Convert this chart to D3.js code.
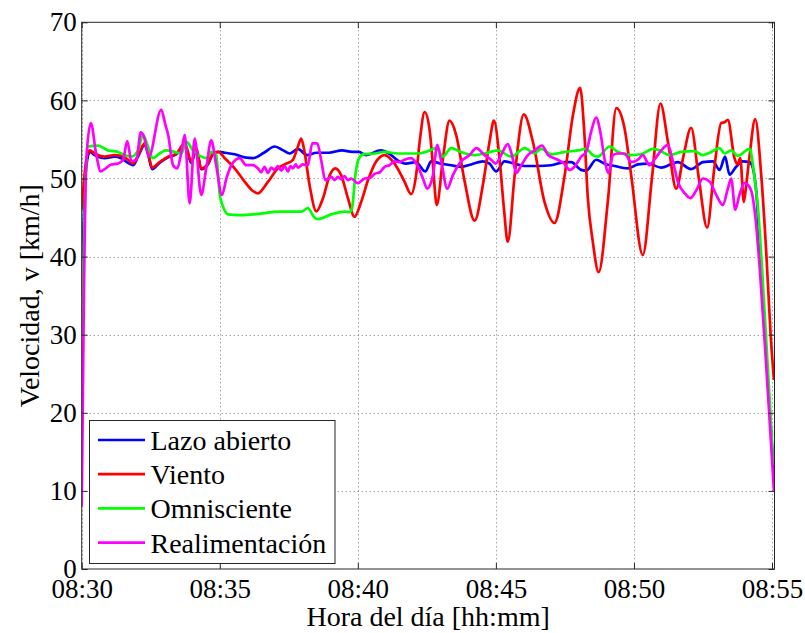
<!DOCTYPE html>
<html><head><meta charset="utf-8">
<script src="https://cdn.jsdelivr.net/npm/d3@7"></script>
<style>
body{margin:0;background:#fff}
text{font-family:"Liberation Serif","Tinos","Times New Roman","DejaVu Serif",serif;fill:#000}
</style>
</head><body>
<svg id="c" width="805" height="633"></svg>
<script>
// time = minutes after 08:30, value = km/h
const lazoAbierto = [[0,35],[0.15,51],[0.29,53.4],[0.47,53.0],[0.83,52.6],[1.19,52.8],[1.43,52.6],[1.68,52.0],[1.86,51.7],[2.04,52.8],[2.28,54.3],[2.40,53.2],[2.55,51.2],[2.82,52.0],[3.13,52.7],[3.43,53.1],[3.73,54.3],[3.97,52.0],[4.15,53.7],[4.33,51.2],[4.57,51.8],[4.75,53.1],[4.94,53.4],[5.18,53.3],[5.54,53.1],[5.90,52.7],[6.20,52.6],[6.60,53.3],[6.99,54.1],[7.30,53.6],[7.53,53.2],[7.83,53.8],[8.16,53.0],[8.50,53.3],[8.95,53.3],[9.43,53.6],[9.80,53.4],[10.04,53.4],[10.30,53.0],[10.83,53.6],[11.13,53.2],[11.45,52.3],[11.74,51.9],[12.10,52.1],[12.44,50.9],[12.66,52.2],[13.02,51.9],[13.38,51.7],[13.74,51.5],[14.11,51.8],[14.53,52.2],[14.77,51.9],[15.01,50.9],[15.31,52.2],[15.67,51.9],[16.04,51.6],[16.52,51.6],[17.00,51.7],[17.49,52.1],[17.73,52.1],[18.09,51.1],[18.27,51.0],[18.63,52.4],[18.94,51.9],[19.30,51.6],[19.78,51.3],[20.14,51.8],[20.51,51.9],[20.99,51.4],[21.59,52.1],[22.07,51.2],[22.50,52.1],[22.86,52.2],[23.10,51.1],[23.30,52.8],[23.46,50.5],[23.70,51.5],[23.94,52.2],[24.19,52.1],[24.31,51.3],[24.43,48.3],[24.62,37],[24.85,24],[25.07,12]];

const viento = [[0,46],[0.15,52],[0.29,53.6],[0.47,53.2],[0.83,52.8],[1.19,53.0],[1.43,52.9],[1.68,52.4],[1.86,51.9],[2.04,53.0],[2.28,54.5],[2.40,53.4],[2.55,51.4],[2.82,52.1],[3.13,52.8],[3.43,53.2],[3.73,54.5],[3.97,52.2],[4.15,53.9],[4.33,51.3],[4.57,51.9],[4.75,53.2],[4.94,53.4],[5.18,52.6],[5.54,51.3],[5.90,49.6],[6.20,48.4],[6.38,48.1],[6.75,49.6],[7.11,51.3],[7.41,51.9],[7.65,52.4],[7.83,54.1],[7.95,55.1],[8.07,53.4],[8.25,49.2],[8.50,45.8],[8.74,47.5],[8.98,50.4],[9.18,51.3],[9.40,50.4],[9.64,47.5],[9.88,45.1],[10.12,47.0],[10.37,49.8],[10.67,52.2],[10.97,53.0],[11.33,51.9],[11.69,49.6],[11.93,48.0],[12.11,50.4],[12.24,54.7],[12.42,58.5],[12.60,56.2],[12.72,51.7],[12.86,46.6],[13.08,52.5],[13.32,57.4],[13.56,55.6],[13.87,49.6],[14.23,44.6],[14.53,49.2],[14.77,54.7],[14.93,57.4],[15.13,52.6],[15.29,46.2],[15.43,41.9],[15.68,50.4],[16.01,58.2],[16.34,54.7],[16.76,47.0],[17.12,44.3],[17.49,50.4],[17.79,58.1],[18.05,61.6],[18.20,56],[18.33,47.5],[18.51,41.9],[18.72,38.0],[19.06,47.3],[19.36,59.0],[19.66,56.4],[19.90,50.4],[20.32,40.2],[20.65,50],[20.96,59.6],[21.23,54.7],[21.53,48.7],[21.80,53],[22.07,56.5],[22.35,50],[22.65,43.7],[22.90,51],[23.16,57.1],[23.28,57.2],[23.40,57.5],[23.64,52.6],[23.75,51.8],[23.85,52.6],[23.98,47.0],[24.06,49.0],[24.19,53.0],[24.39,57.6],[24.61,50.4],[24.80,40],[24.95,30],[25.07,24.2]];

const omnisciente = [[0,30],[0.1,45],[0.23,54.1],[0.59,54.2],[0.95,53.6],[1.31,53.4],[1.56,53.0],[1.80,52.8],[2.04,53.6],[2.22,55.6],[2.40,54.1],[2.58,52.6],[2.82,53.2],[3.06,53.6],[3.37,53.4],[3.61,53.2],[3.79,54.7],[4.03,53.6],[4.33,52.8],[4.51,52.6],[4.69,53.4],[4.87,53.0],[5.00,47.9],[5.12,46.4],[5.30,45.4],[5.66,45.3],[6.20,45.4],[7.23,45.75],[7.95,45.75],[8.19,46.2],[8.43,45.0],[8.55,44.8],[9.04,45.4],[9.52,45.75],[9.70,45.7],[9.79,46.2],[9.91,50.4],[10.00,52.2],[10.18,53.1],[10.61,53.2],[10.97,53.4],[11.45,53.2],[11.93,53.2],[12.18,53.2],[12.54,53.5],[12.84,53.9],[13.08,52.8],[13.38,53.9],[13.74,53.4],[14.23,53.0],[14.59,53.2],[15.07,53.6],[15.56,52.8],[16.04,53.9],[16.40,53.2],[16.64,53.8],[17.00,53.1],[17.49,53.4],[17.97,53.6],[18.27,53.8],[18.51,53.0],[18.69,52.8],[19.12,54.1],[19.42,53.4],[19.90,53.0],[20.26,53.1],[20.68,53.8],[20.92,53.6],[21.29,53.0],[21.71,53.4],[22.19,53.5],[22.49,53.0],[22.80,53.4],[23.10,53.9],[23.28,53.2],[23.52,53.6],[23.76,52.9],[24.19,53.8],[24.34,50.9],[24.49,46.2],[24.68,36],[24.92,21.3],[25.04,13.3]];

const realimentacion = [[0,8],[0.08,35],[0.17,52.6],[0.33,57.1],[0.53,53.0],[0.69,50.9],[0.83,51.2],[1.07,51.8],[1.31,51.9],[1.50,52.4],[1.65,54.8],[1.80,52.2],[1.98,52.4],[2.14,55.9],[2.25,55.4],[2.43,52.8],[2.88,58.8],[3.03,56.9],[3.13,55.6],[3.31,51.7],[3.46,51.3],[3.61,53.4],[3.73,55.6],[3.91,46.8],[4.09,55.1],[4.33,47.9],[4.51,51.3],[4.69,54.9],[4.87,51.7],[5.08,47.9],[5.24,50.0],[5.42,51.7],[5.72,52.6],[5.96,51.7],[6.20,51.7],[6.38,51.3],[6.50,50.8],[6.62,51.5],[6.75,50.7],[6.86,51.4],[6.99,51.1],[7.10,51.6],[7.23,51.0],[7.35,51.6],[7.47,50.9],[7.56,51.6],[7.65,51.3],[7.75,51.8],[7.83,51.4],[8.01,51.8],[8.19,51.7],[8.35,54.5],[8.53,54.5],[8.68,52.2],[8.82,49.8],[9.04,50.2],[9.16,49.8],[9.28,50.2],[9.40,49.9],[9.52,50.3],[9.64,49.8],[9.76,50.0],[10.00,49.4],[10.25,50.0],[10.45,50.1],[10.61,50.6],[10.80,50.8],[10.97,51.5],[11.15,51.7],[11.33,52.2],[11.50,52.1],[11.69,52.4],[11.93,52.6],[12.18,51.5],[12.36,50.0],[12.51,48.7],[12.72,50.4],[12.88,54.3],[13.02,52.2],[13.24,48.7],[13.44,50.4],[13.74,52.2],[14.05,53.0],[14.29,53.9],[14.59,53.0],[14.83,52.4],[14.99,51.9],[15.19,53.0],[15.43,54.4],[15.58,53.0],[15.74,50.7],[15.92,51.7],[16.16,53.0],[16.41,53.6],[16.67,54.2],[16.89,53.0],[17.24,52.4],[17.48,51.9],[17.67,51.1],[17.85,51.5],[18.09,52.8],[18.27,53.4],[18.45,56],[18.63,57.8],[18.79,55.8],[18.93,52.6],[19.08,50.7],[19.24,53.0],[19.42,53.2],[19.66,53.2],[19.90,52.1],[20.14,52.4],[20.32,53.0],[20.56,51.7],[20.74,52.4],[20.99,53.6],[21.23,54.3],[21.41,52.2],[21.59,49.6],[21.84,48.1],[22.05,47.5],[22.26,48.5],[22.50,50.0],[22.74,49.6],[22.98,47.9],[23.22,46.6],[23.40,48.7],[23.52,50.0],[23.67,46.0],[23.82,47.9],[24.00,49.4],[24.12,49.2],[24.26,48.3],[24.40,45],[24.56,38.3],[24.80,25.5],[24.98,15.2],[25.07,10]];

const seriesNames = ["Lazo abierto","Viento","Omnisciente","Realimentación"];
const seriesColors = ["#0000ff","#ff0000","#00ff00","#ff00ff"];
const seriesData = [lazoAbierto, viento, omnisciente, realimentacion];

const xTickValues = [0,5,10,15,20,25];
const xTickLabels = ["08:30","08:35","08:40","08:45","08:50","08:55"];
const yTickValues = [0,10,20,30,40,50,60,70];
const xDomain = [0,25.09];
const yDomain = [0,70];
const xTitle = "Hora del día [hh:mm]";
const yTitle = "Velocidad, v [km/h]";

const FONT = '"Liberation Serif","Tinos","Times New Roman","DejaVu Serif",serif';
const svg = d3.select("#c");
const L=81.7,R=774.5,T=22.3,B=569;
const x = d3.scaleLinear().domain(xDomain).range([L,R]);
const y = d3.scaleLinear().domain(yDomain).range([B,T]);

svg.append("rect").attr("x",0).attr("y",0).attr("width",805).attr("height",633).attr("fill","#fff");

// grid
const grid = svg.append("g").attr("stroke","#7a7a7a").attr("stroke-width",1).attr("stroke-dasharray","1,3");
grid.selectAll(".gx").data(xTickValues).join("line")
  .attr("x1",d=>Math.round(x(d))+0.5).attr("x2",d=>Math.round(x(d))+0.5).attr("y1",T).attr("y2",B);
grid.selectAll(".gy").data(yTickValues.filter(v=>v>0&&v<70)).join("line")
  .attr("y1",d=>Math.round(y(d))+0.5).attr("y2",d=>Math.round(y(d))+0.5).attr("x1",L).attr("x2",R);

// clip
svg.append("clipPath").attr("id","clip").append("rect").attr("x",L).attr("y",T).attr("width",R-L).attr("height",B-T);

const line = d3.line().x(d=>x(d[0])).y(d=>y(d[1])).curve(d3.curveMonotoneX);
const lines = svg.append("g").attr("clip-path","url(#clip)");
seriesData.forEach((s,i)=>{
  lines.append("path").datum(s).attr("d",line).attr("fill","none")
    .attr("stroke",seriesColors[i]).attr("stroke-width",2.7).attr("stroke-linejoin","round");
});

// axes
const axColor = "#262626";
const gx = svg.append("g").attr("transform",`translate(0,${B})`)
  .call(d3.axisBottom(x).tickValues(xTickValues).tickFormat((d,i)=>xTickLabels[i]).tickSizeInner(-6).tickSizeOuter(0).tickPadding(10));
const gxt = svg.append("g").attr("transform",`translate(0,${T})`)
  .call(d3.axisTop(x).tickValues(xTickValues).tickFormat("").tickSizeInner(-6).tickSizeOuter(0));
const gy = svg.append("g").attr("transform",`translate(${L},0)`)
  .call(d3.axisLeft(y).tickValues(yTickValues).tickSizeInner(-6).tickSizeOuter(0).tickPadding(5));
const gyr = svg.append("g").attr("transform",`translate(${R},0)`)
  .call(d3.axisRight(y).tickValues(yTickValues).tickFormat("").tickSizeInner(-6).tickSizeOuter(0));
[gx,gxt,gy,gyr].forEach(g=>{
  g.attr("font-family",FONT).attr("font-size",27);
  g.select(".domain").remove();
  g.selectAll(".tick line").attr("stroke",axColor);
  g.selectAll("text").style("font-family",FONT).style("font-size","27px").attr("fill","#000");
});
svg.append("rect").attr("x",L).attr("y",T).attr("width",R-L).attr("height",B-T)
  .attr("fill","none").attr("stroke",axColor).attr("stroke-width",1);

// titles
svg.append("text").attr("x",(L+R)/2).attr("y",626).attr("text-anchor","middle")
  .style("font-family",FONT).style("font-size","28px").text(xTitle);
svg.append("text").attr("transform",`translate(39,${(T+B)/2}) rotate(-90)`).attr("text-anchor","middle")
  .style("font-family",FONT).style("font-size","28px").text(yTitle);

// legend
const lg = svg.append("g");
lg.append("rect").attr("x",89.5).attr("y",420.5).attr("width",245.5).attr("height",143)
  .attr("fill","#fff").attr("stroke",axColor).attr("stroke-width",1);
seriesNames.forEach((n,i)=>{
  const yy = 440 + i*34.2;
  lg.append("line").attr("x1",98).attr("x2",145).attr("y1",yy).attr("y2",yy)
    .attr("stroke",seriesColors[i]).attr("stroke-width",2.7);
  lg.append("text").attr("x",150.5).attr("y",yy+10).style("font-family",FONT).style("font-size","28px").text(n);
});
</script>
</body></html>
